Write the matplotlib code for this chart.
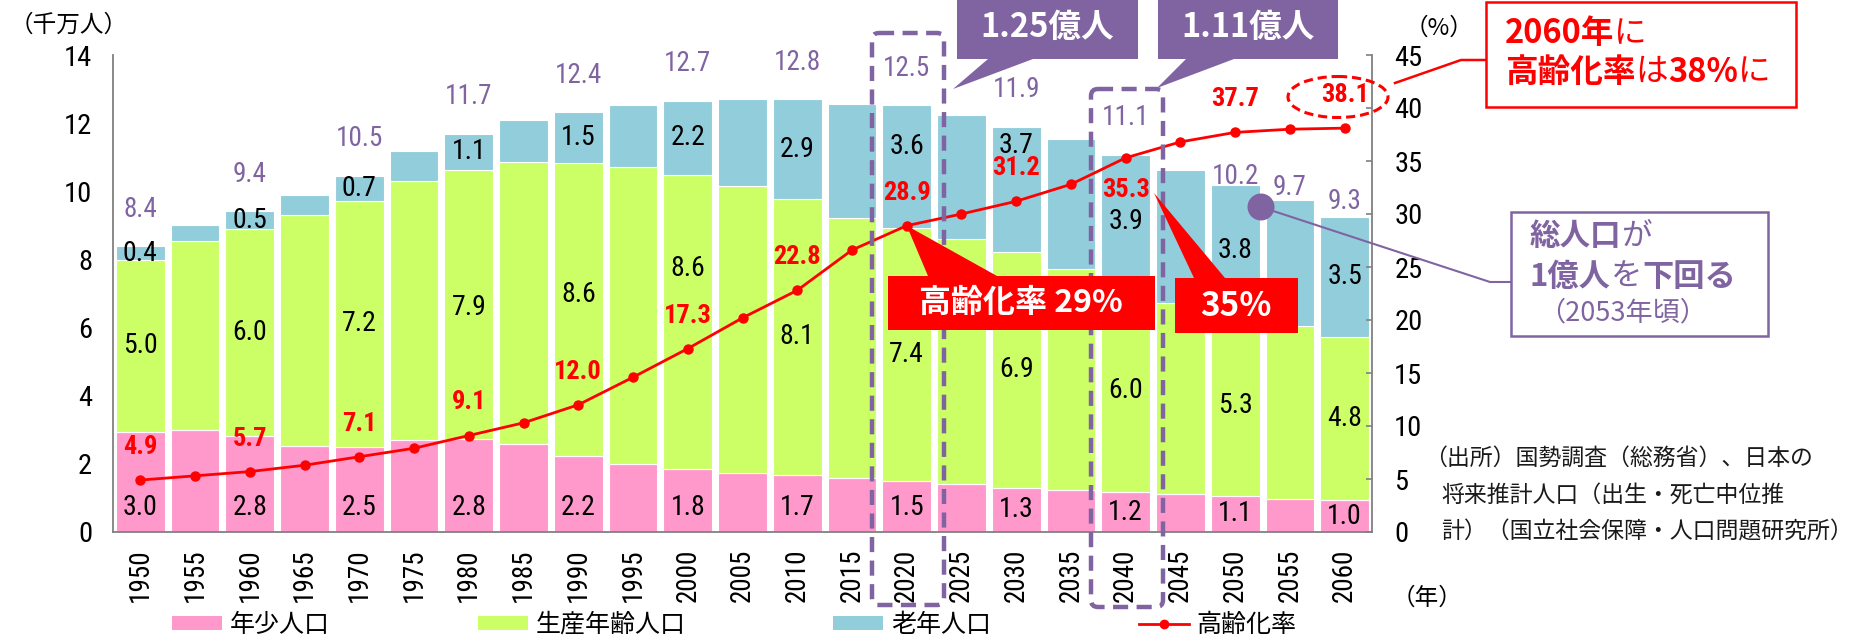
import matplotlib
matplotlib.use('Agg')
import matplotlib.pyplot as plt
from matplotlib.patches import Rectangle, Polygon, FancyBboxPatch, Ellipse, Circle, Patch
from matplotlib.lines import Line2D
from matplotlib.transforms import Affine2D
from matplotlib import font_manager
import numpy as np

# ---------------- data ----------------
years = [1950, 1955, 1960, 1965, 1970, 1975, 1980, 1985, 1990, 1995, 2000, 2005,
         2010, 2015, 2020, 2025, 2030, 2035, 2040, 2045, 2050, 2055, 2060]
young = [2.94, 3.00, 2.83, 2.53, 2.50, 2.70, 2.72, 2.58, 2.24, 1.99, 1.84, 1.74,
         1.67, 1.58, 1.50, 1.40, 1.30, 1.23, 1.16, 1.11, 1.06, 0.98, 0.93]
working = [5.04, 5.54, 6.05, 6.76, 7.22, 7.60, 7.91, 8.27, 8.58, 8.71, 8.64, 8.42,
           8.11, 7.64, 7.42, 7.19, 6.91, 6.50, 5.99, 5.60, 5.30, 5.08, 4.80]
elderly = [0.41, 0.46, 0.54, 0.61, 0.74, 0.88, 1.06, 1.25, 1.50, 1.83, 2.18, 2.56,
           2.92, 3.33, 3.60, 3.65, 3.69, 3.79, 3.92, 3.92, 3.81, 3.67, 3.52]
aging_rate = [4.9, 5.3, 5.7, 6.3, 7.1, 7.9, 9.1, 10.3, 12.0, 14.6, 17.3, 20.2,
              22.8, 26.6, 28.9, 30.0, 31.2, 32.8, 35.3, 36.8, 37.7, 38.0, 38.1]

label_years = [1950, 1960, 1970, 1980, 1990, 2000, 2010, 2020, 2030, 2040, 2050, 2060]
young_labels = [3.0, 2.8, 2.5, 2.8, 2.2, 1.8, 1.7, 1.5, 1.3, 1.2, 1.1, 1.0]
working_labels = [5.0, 6.0, 7.2, 7.9, 8.6, 8.6, 8.1, 7.4, 6.9, 6.0, 5.3, 4.8]
elderly_labels = [0.4, 0.5, 0.7, 1.1, 1.5, 2.2, 2.9, 3.6, 3.7, 3.9, 3.8, 3.5]
rate_labels = [4.9, 5.7, 7.1, 9.1, 12.0, 17.3, 22.8, 28.9, 31.2, 35.3, 37.7, 38.1]
total_label_years = [1950, 1960, 1970, 1980, 1990, 2000, 2010, 2020, 2030, 2040, 2050, 2055, 2060]
total_labels = [8.4, 9.4, 10.5, 11.7, 12.4, 12.7, 12.8, 12.5, 11.9, 11.1, 10.2, 9.7, 9.3]

legend_names = ['年少人口', '生産年齢人口', '老年人口', '高齢化率']

# ---------------- fonts ----------------
JP = ['Noto Sans CJK JP', 'DejaVu Sans']
ttf = font_manager.fontManager.ttflist
avail = {f.name for f in ttf}
NUM_FAMILY, NUM_STRETCH = 'DejaVu Sans', 'normal'
for name in ['Liberation Sans Narrow', 'Arial Narrow', 'Roboto Condensed',
             'Open Sans Condensed', 'Noto Sans Condensed', 'DejaVu Sans Condensed']:
    if name in avail:
        NUM_FAMILY = name
        break
else:
    for fam in ['Roboto', 'Noto Sans', 'Open Sans', 'DejaVu Sans']:
        if any(f.name == fam and str(f.stretch) in ('condensed', 'semi-condensed', 'extra-condensed')
               for f in ttf):
            NUM_FAMILY, NUM_STRETCH = fam, 'condensed'
            break
NUM = dict(family=[NUM_FAMILY], fontstretch=NUM_STRETCH)
plt.rcParams['font.family'] = JP

PINK = '#FF99CC'
GREEN = '#CCFF66'
BLUE = '#92CDDC'
RED = '#FF0000'
PURPLE = '#8064A2'
GRAY = '#808080'

W, H = 1862, 637
fig = plt.figure(figsize=(W / 100, H / 100), dpi=100)
L, R, T, B = 113, 1372, 55, 532
ax = fig.add_axes([L / W, 1 - B / H, (R - L) / W, (B - T) / H])
ax2 = ax.twinx()

x = np.arange(len(years))
young_a = np.array(young)
working_a = np.array(working)
elderly_a = np.array(elderly)

bw = 0.89
ax.bar(x, young_a, width=bw, color=PINK, edgecolor='white', linewidth=0.8, zorder=2)
ax.bar(x, working_a, width=bw, bottom=young_a, color=GREEN, edgecolor='white', linewidth=0.8, zorder=2)
ax.bar(x, elderly_a, width=bw, bottom=young_a + working_a, color=BLUE, edgecolor='white', linewidth=0.8, zorder=2)

ax.set_xlim(-0.5, len(years) - 0.5)
ax.set_ylim(0, 14)
ax2.set_ylim(0, 45)

ax2.plot(x, aging_rate, color=RED, lw=2.0, marker='o', markersize=6.5, zorder=5)

ax.spines['top'].set_visible(False)
ax2.spines['top'].set_visible(False)
ax.spines['right'].set_visible(False)
ax2.spines['left'].set_visible(False)
ax2.spines['bottom'].set_visible(False)
for sp in [ax.spines['left'], ax.spines['bottom'], ax2.spines['right']]:
    sp.set_color(GRAY)
    sp.set_linewidth(1.3)

ax.set_yticks(range(0, 15, 2))
ax.tick_params(axis='y', length=0, pad=15)
ax.tick_params(axis='x', length=0, pad=12)
ax.set_xticks(x)
ax.set_xticklabels([str(y) for y in years], rotation=90, fontsize=19.5, **NUM)
for t in ax.get_yticklabels():
    t.set_fontsize(20.5)
    t.set_family(NUM['family'])
    t.set_fontstretch(NUM_STRETCH)
ax2.set_yticks(range(0, 46, 5))
ax2.tick_params(axis='y', direction='in', length=4, width=1.2, color=GRAY, pad=16)
for t in ax2.get_yticklabels():
    t.set_fontsize(20.5)
    t.set_family(NUM['family'])
    t.set_fontstretch(NUM_STRETCH)

# ---------------- data labels ----------------
idx = {y: i for i, y in enumerate(years)}
working_shift = {1980: -0.1, 1990: 0.43, 2000: 1.58}
elderly_shift = {2020: 0.6, 2030: 1.3}
for k, yr in enumerate(label_years):
    i = idx[yr]
    yc = min(young[i] / 2, 0.72)
    ax.text(i, yc, f'{young_labels[k]:.1f}', ha='center', va='center', fontsize=20,
            color='black', zorder=6, **NUM)
    wc = young[i] + working[i] / 2 + working_shift.get(yr, 0)
    ax.text(i, wc, f'{working_labels[k]:.1f}', ha='center', va='center', fontsize=20,
            color='black', zorder=6, **NUM)
    ec = young[i] + working[i] + elderly[i] / 2 + elderly_shift.get(yr, 0)
    ax.text(i, ec, f'{elderly_labels[k]:.1f}', ha='center', va='center', fontsize=20,
            color='black', zorder=6, **NUM)
    dy = -23 if yr == 2040 else 23.8
    ax2.annotate(f'{rate_labels[k]:.1f}', (i, aging_rate[i]), xytext=(0, dy),
                 textcoords='offset points', ha='center', va='center', fontsize=19,
                 fontweight='bold', color=RED, zorder=7, **NUM)

total_dy = {2050: 6.5, 2055: 9.4, 2060: 10.8}
for k, yr in enumerate(total_label_years):
    i = idx[yr]
    top = young[i] + working[i] + elderly[i]
    ax.annotate(f'{total_labels[k]:.1f}', (i, top), xytext=(0, total_dy.get(yr, 26.6)),
                textcoords='offset points', ha='center', va='center', fontsize=19.5,
                color=PURPLE, zorder=6, **NUM)

# ---------------- decorations (reference pixel coords, y down) ----------------
P = Affine2D().scale(1 / W, -1 / H).translate(0, 1) + fig.transFigure
renderer = fig.canvas.get_renderer()


def data_px(axis, xv, yv):
    d = axis.transData.transform((xv, yv))
    return d[0], H - d[1]


def ftext(px, py, s, **kw):
    return fig.text(px / W, 1 - py / H, s, **kw)


def run_text(px, py, parts, **kw):
    cx = px
    for s, wt in parts:
        t = ftext(cx, py, s, ha='left', va='center', fontweight=wt, **kw)
        cx += t.get_window_extent(renderer=renderer).width


# dashed boxes around 2020 and 2040
for (x0, y0, x1, y1) in [(872, 33, 944, 605), (1091, 89, 1163, 607)]:
    fig.patches.append(FancyBboxPatch((x0, y0), x1 - x0, y1 - y0,
                                      boxstyle='round,pad=0,rounding_size=7',
                                      transform=P, fill=False, ec=PURPLE, lw=3.2,
                                      ls=(0, (3.4, 1.9)), zorder=8))

# purple callouts
fig.patches.append(Polygon([(957, 0), (1138, 0), (1138, 59), (1033, 59), (953, 89), (988, 59), (957, 59)],
                           closed=True, transform=P, fc=PURPLE, ec='none', zorder=8))
fig.patches.append(Polygon([(1158, 0), (1338, 0), (1338, 59), (1234, 59), (1157, 88), (1186, 59), (1158, 59)],
                           closed=True, transform=P, fc=PURPLE, ec='none', zorder=8))
ftext(1047, 27, '1.25億人', ha='center', va='center', color='white', fontsize=23.5,
      fontweight='bold', zorder=9)
ftext(1248, 27, '1.11億人', ha='center', va='center', color='white', fontsize=23.5,
      fontweight='bold', zorder=9)

# red callouts
tx, ty = data_px(ax2, idx[2020], aging_rate[idx[2020]])
fig.patches.append(Polygon([(888, 276), (928, 276), (tx, ty), (997, 276), (1155, 276), (1155, 330), (888, 330)],
                           closed=True, transform=P, fc=RED, ec='none', zorder=8))
ftext(1021, 303, '高齢化率 29%', ha='center', va='center', color='white', fontsize=23,
      fontweight='bold', zorder=9)
fig.patches.append(Polygon([(1175, 278), (1194, 278), (1154, 193), (1225, 278), (1298, 278), (1298, 333), (1175, 333)],
                           closed=True, transform=P, fc=RED, ec='none', zorder=8))
ftext(1236, 306, '35%', ha='center', va='center', color='white', fontsize=24,
      fontweight='bold', zorder=9)

# 2060 note
fig.patches.append(Rectangle((1486, 2), 310, 105, transform=P, fc='white', ec=RED, lw=1.8, zorder=8))
run_text(1505, 34, [('2060年', 'bold'), ('に', 'normal')], color=RED, fontsize=23.5, zorder=9)
run_text(1505, 72, [('高齢化率', 'bold'), ('は', 'normal'), ('38%', 'bold'), ('に', 'normal')],
         color=RED, fontsize=23.5, zorder=9)
fig.lines.append(Line2D([1486, 1461, 1395], [60, 60, 83], transform=P, color=RED, lw=1.8, zorder=8))
fig.patches.append(Ellipse((1338, 97), 100, 41, transform=P, fill=False, ec=RED, lw=2.2,
                           ls=(0, (3, 1.6)), zorder=8))

# population note
fig.patches.append(Rectangle((1511, 212), 257, 124, transform=P, fc='white', ec=PURPLE, lw=1.8, zorder=8))
run_text(1530, 236, [('総人口', 'bold'), ('が', 'normal')], color=PURPLE, fontsize=22, zorder=9)
run_text(1530, 277, [('1億人', 'bold'), ('を', 'normal'), ('下回る', 'bold')], color=PURPLE,
         fontsize=22.5, zorder=9)
ftext(1538, 313, '（2053年頃）', ha='left', va='center', color=PURPLE, fontsize=19.5, zorder=9)
fig.lines.append(Line2D([1261, 1490, 1511], [207, 282, 282], transform=P, color=PURPLE, lw=1.5, zorder=8))
fig.patches.append(Circle((1261, 207), 13.5, transform=P, fc=PURPLE, ec='none', zorder=9))

# units and source
ftext(10, 25, '（千万人）', ha='left', va='center', fontsize=17, color='black')
ftext(1405, 28, '（%）', ha='left', va='center', fontsize=17, color='black')
ftext(1392, 598, '（年）', ha='left', va='center', fontsize=17, color='black')
ftext(1424, 458, '（出所）国勢調査（総務省）、日本の', ha='left', va='center', fontsize=16.5, color='#1a1a1a')
ftext(1441, 495, '将来推計人口（出生・死亡中位推', ha='left', va='center', fontsize=16.5, color='#1a1a1a')
ftext(1441, 532, '計）（国立社会保障・人口問題研究所）', ha='left', va='center', fontsize=16.5, color='#1a1a1a')

# legend
handles = [Patch(facecolor=PINK), Patch(facecolor=GREEN), Patch(facecolor=BLUE),
           Line2D([], [], color=RED, lw=2, marker='o', markersize=6)]
fig.legend(handles, legend_names, loc='center left', bbox_to_anchor=(172 / W, 1 - 625 / H),
           ncol=4, frameon=False, fontsize=18, borderpad=0, borderaxespad=0,
           handlelength=2.0, handleheight=0.45, handletextpad=0.32, columnspacing=5.9)

fig.savefig('out.png', dpi=100)
